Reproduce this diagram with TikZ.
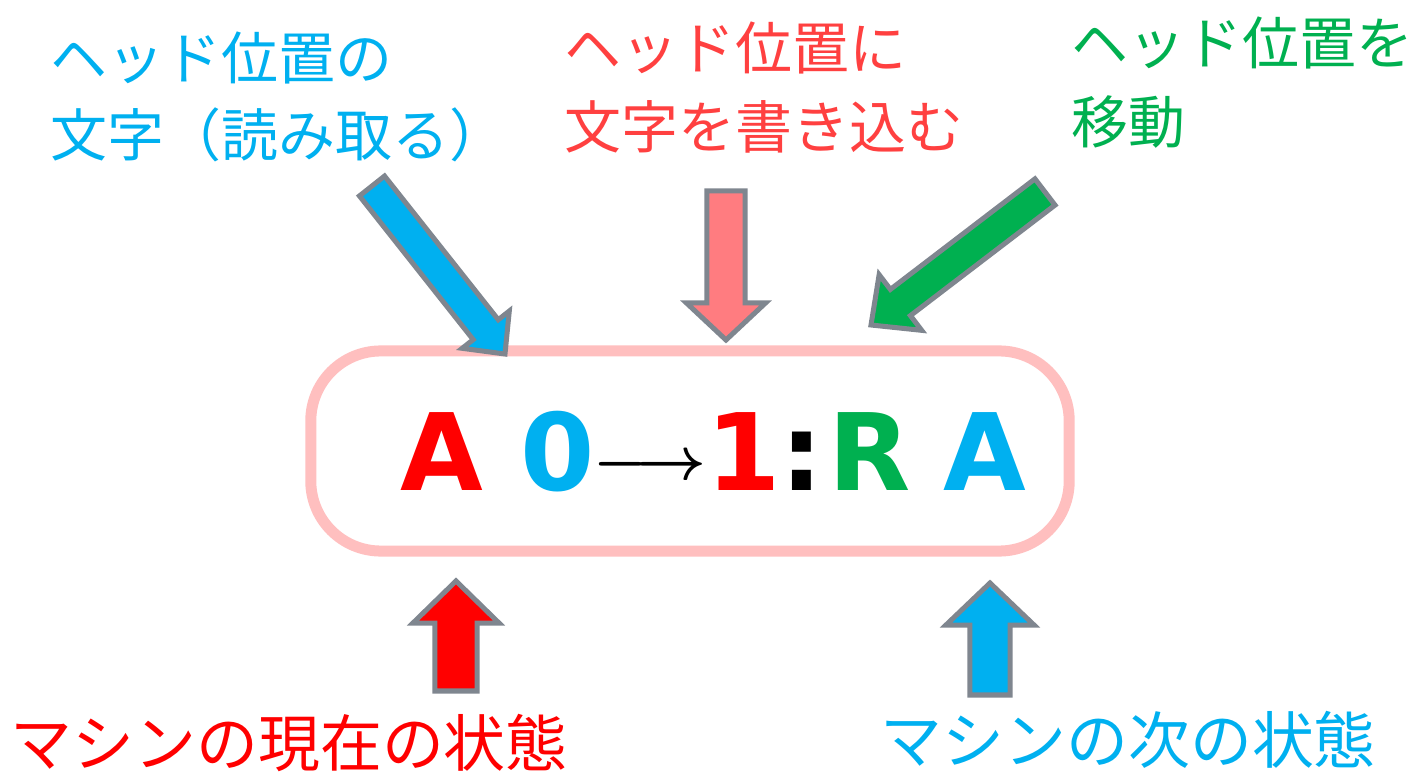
\documentclass[tikz,border=0pt]{standalone}
\usepackage{fontspec}
\usetikzlibrary{calc}
\newfontfamily\jp{Noto Sans CJK JP}
\newfontfamily\boxfont{DejaVu Sans}
\definecolor{tblue}{HTML}{00B0F0}
\definecolor{tred}{HTML}{FF0000}
\definecolor{tlred}{HTML}{FF4040}
\definecolor{tgreen}{HTML}{00B050}
\definecolor{tsalmon}{HTML}{FF7C80}
\definecolor{tgray}{RGB}{127,134,143}
\definecolor{tpink}{HTML}{FFBFBF}
\newcommand{\blockarrow}[7]{%
  \coordinate (#1t) at #3;
  \coordinate (#1h) at #4;
  \coordinate (#1b) at ($(#1h)!#7!(#1t)$);
  \draw[barrow, fill=#2] ($(#1t)!#5!90:(#1h)$) -- ($(#1b)!#5!90:(#1h)$)
    -- ($(#1b)!#6!90:(#1h)$) -- (#1h) -- ($(#1b)!#6!-90:(#1h)$)
    -- ($(#1b)!#5!-90:(#1h)$) -- ($(#1t)!#5!-90:(#1h)$) -- cycle;
}
\tikzset{
  barrow/.style={draw=tgray, line width=0.05cm, line join=miter},
  toplabel/.style={font=\jp\fontsize{16.2}{16.2}\selectfont, anchor=base west, inner sep=0pt},
  botlabel/.style={font=\jp\fontsize{17.6}{17.6}\selectfont, anchor=base west, inner sep=0pt},
  sym/.style={font=\boxfont\bfseries\fontsize{30.4}{30.4}\selectfont, anchor=base, inner sep=0pt},
  rulebox/.style={draw=tpink, line width=0.11cm, rounded corners=0.7cm, minimum width=7.58cm, minimum height=2.0cm, fill=white}
}
\begin{document}
\begin{tikzpicture}[x=0.01cm, y=-0.01cm]
\useasboundingbox (0,0) rectangle (1414,773);
% rule box
\node[rulebox] (rule) at (690,451) {};
% block arrows
\blockarrow{readarr}{tblue}{(372,186)}{(505,354)}{0.16cm}{0.30cm}{0.31cm}
\blockarrow{writearr}{tsalmon}{(726,191)}{(726,340)}{0.19cm}{0.395cm}{0.37cm}
\blockarrow{movearr}{tgreen}{(1045,192)}{(871,325)}{0.165cm}{0.35cm}{0.37cm}
\blockarrow{curarr}{tred}{(456,691)}{(456,581)}{0.21cm}{0.43cm}{0.42cm}
\blockarrow{nextarr}{tblue}{(990,695)}{(990,583)}{0.20cm}{0.44cm}{0.42cm}
% rule text
\node[sym, text=tred] (s1) at (442,491) {A};
\node[sym, text=tblue] (s2) at (558,491) {0};
\node[anchor=base, inner sep=0pt, font=\fontsize{19}{19}\selectfont\mathversion{bold}] (s3) at (650,479) {$\longrightarrow$};
\node[sym, text=tred] (s4) at (744,491) {1};
\node[sym, text=black] (s5) at (802,491) {:};
\node[sym, text=tgreen] (s6) at (870,491) {R};
\node[sym, text=tblue] (s7) at (985,491) {A};
% labels
\node[toplabel, text=tblue] (readA) at (50,80) {ヘッド位置の};
\node[toplabel, text=tblue] (readB) at (50,157) {文字（読み取る）};
\node[toplabel, text=tlred] (writeA) at (564,70) {ヘッド位置に};
\node[toplabel, text=tlred] (writeB) at (564,149) {文字を書き込む};
\node[toplabel, text=tgreen] (moveA) at (1071,65) {ヘッド位置を};
\node[toplabel, text=tgreen] (moveB) at (1071,144) {移動};
\node[botlabel, text=tred] (cur) at (10,766) {マシンの現在の状態};
\node[botlabel, text=tblue] (next) at (880,763) {マシンの次の状態};
\end{tikzpicture}
\end{document}
